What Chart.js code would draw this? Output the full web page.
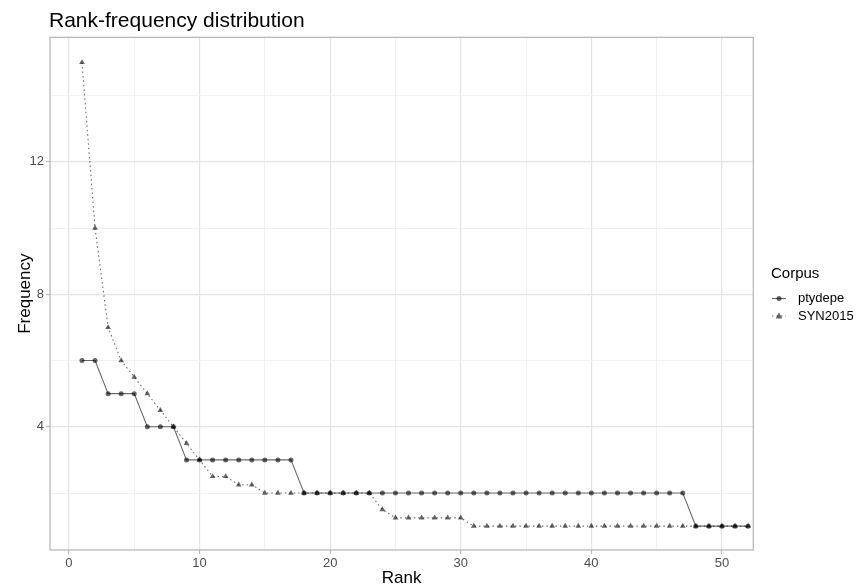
<!DOCTYPE html>
<html>
<head>
<meta charset="utf-8">
<script src="https://cdn.jsdelivr.net/npm/chart.js@4.4.1/dist/chart.umd.min.js"></script>
<style>
  html, body { margin: 0; padding: 0; background: #fff; }
  #wrap { width: 860px; height: 584px; position: relative; }
</style>
</head>
<body>
<div id="wrap"><canvas id="c" width="860" height="584"></canvas></div>
<script>
const chartTitle = "Rank-frequency distribution";
const xTitle = "Rank";
const yTitle = "Frequency";
const legendTitle = "Corpus";
const seriesNames = ["ptydepe", "SYN2015"];

const ranks = [1,2,3,4,5,6,7,8,9,10,11,12,13,14,15,16,17,18,19,20,21,22,23,24,25,26,
               27,28,29,30,31,32,33,34,35,36,37,38,39,40,41,42,43,44,45,46,47,48,49,50,51,52];

const ptydepe = [6,6,5,5,5,4,4,4,3,3,3,3,3,3,3,3,3,2,2,2,2,2,2,2,2,2,
                 2,2,2,2,2,2,2,2,2,2,2,2,2,2,2,2,2,2,2,2,2,1,1,1,1,1];

const syn2015 = [15,10,7,6,5.5,5,4.5,4,3.5,3,2.5,2.5,2.25,2.25,2,2,2,2,2,2,2,2,2,1.5,1.25,1.25,
                 1.25,1.25,1.25,1.25,1,1,1,1,1,1,1,1,1,1,1,1,1,1,1,1,1,1,1,1,1,1];

const xMajor = [0,10,20,30,40,50];
const xMinor = [5,15,25,35,45];
const yMajor = [4,8,12];
const yMinor = [2,6,10,14];

const FONT = "'Liberation Sans', Arial, Helvetica, sans-serif";
const LINE_COL = "rgba(0,0,0,0.58)";
const PT_COL = "rgba(0,0,0,0.6)";
const GRID_MAJ = "#e4e4e4";
const GRID_MIN = "#eeeeee";
const BORDER = "#b3b3b3";

const isMajor = (list, v) => list.some(m => Math.abs(m - v) < 1e-9);

const decor = {
  id: "decor",
  afterDraw(chart) {
    const ctx = chart.ctx;
    const a = chart.chartArea;
    ctx.save();
    ctx.strokeStyle = BORDER;
    ctx.lineWidth = 1.2;
    ctx.strokeRect(a.left, a.top, a.right - a.left, a.bottom - a.top);
    ctx.fillStyle = "#000";
    ctx.textBaseline = "alphabetic";
    ctx.textAlign = "left";
    ctx.font = "21px " + FONT;
    ctx.fillText(chartTitle, 49, 27);
    ctx.font = "17px " + FONT;
    ctx.textAlign = "center";
    ctx.fillText(xTitle, (a.left + a.right) / 2, 583);
    ctx.save();
    ctx.translate(30, (a.top + a.bottom) / 2);
    ctx.rotate(-Math.PI / 2);
    ctx.fillText(yTitle, 0, 0);
    ctx.restore();
    ctx.textAlign = "left";
    ctx.font = "15px " + FONT;
    ctx.fillText(legendTitle, 771, 278);
    const rowsY = [298.5, 316];
    chart.data.datasets.forEach((ds, i) => {
      const y = rowsY[i];
      ctx.strokeStyle = LINE_COL;
      ctx.lineWidth = 1.1;
      ctx.setLineDash(ds.borderDash || []);
      ctx.beginPath();
      ctx.moveTo(772, y);
      ctx.lineTo(786, y);
      ctx.stroke();
      ctx.setLineDash([]);
      ctx.fillStyle = PT_COL;
      ctx.beginPath();
      if (ds.pointStyle === "triangle") {
        const r = ds.pointRadius;
        ctx.moveTo(779, y - r * 1.1);
        ctx.lineTo(779 + r, y + r * 0.75);
        ctx.lineTo(779 - r, y + r * 0.75);
        ctx.closePath();
      } else {
        ctx.arc(779, y, ds.pointRadius, 0, Math.PI * 2);
      }
      ctx.fill();
      ctx.fillStyle = "#000";
      ctx.font = "13px " + FONT;
      ctx.textBaseline = "middle";
      ctx.fillText(ds.label, 798, y);
      ctx.textBaseline = "alphabetic";
    });
    ctx.restore();
  }
};

const toPts = (ys) => ranks.map((r, i) => ({ x: r, y: ys[i] }));

new Chart(document.getElementById("c"), {
  type: "line",
  data: {
    datasets: [
      {
        label: seriesNames[0],
        data: toPts(ptydepe),
        borderColor: LINE_COL,
        borderWidth: 1.1,
        pointStyle: "circle",
        pointRadius: 2.5,
        pointBackgroundColor: PT_COL,
        pointBorderWidth: 0,
        tension: 0,
        fill: false
      },
      {
        label: seriesNames[1],
        data: toPts(syn2015),
        borderColor: LINE_COL,
        borderWidth: 1.1,
        borderDash: [1.5, 3],
        pointStyle: "triangle",
        pointRadius: 3.3,
        pointBackgroundColor: PT_COL,
        pointBorderWidth: 0,
        tension: 0,
        fill: false
      }
    ]
  },
  options: {
    responsive: false,
    animation: false,
    devicePixelRatio: 1,
    layout: { padding: { left: 0, top: 37.3, right: 106.7, bottom: 0 } },
    plugins: { legend: { display: false }, title: { display: false }, tooltip: { enabled: false } },
    scales: {
      x: {
        type: "linear",
        min: -1.45,
        max: 52.4,
        afterBuildTicks(scale) {
          scale.ticks = [...xMajor, ...xMinor].sort((p, q) => p - q).map(v => ({ value: v }));
        },
        afterFit(scale) { scale.height = 34; },
        border: { display: false },
        grid: {
          drawTicks: true,
          tickLength: 4,
          color: ctx => isMajor(xMajor, ctx.tick.value) ? GRID_MAJ : GRID_MIN,
          lineWidth: ctx => isMajor(xMajor, ctx.tick.value) ? 1.2 : 0.8,
          tickColor: ctx => isMajor(xMajor, ctx.tick.value) ? BORDER : "rgba(0,0,0,0)",
          tickWidth: 1
        },
        ticks: {
          autoSkip: false,
          maxRotation: 0,
          padding: 2,
          color: "#4d4d4d",
          font: { family: FONT, size: 13 },
          callback: v => isMajor(xMajor, v) ? String(v) : ""
        }
      },
      y: {
        type: "linear",
        min: 0.28,
        max: 15.76,
        afterBuildTicks(scale) {
          scale.ticks = [...yMajor, ...yMinor].sort((p, q) => p - q).map(v => ({ value: v }));
        },
        afterFit(scale) { scale.width = 50; },
        border: { display: false },
        grid: {
          drawTicks: true,
          tickLength: 4,
          color: ctx => isMajor(yMajor, ctx.tick.value) ? GRID_MAJ : GRID_MIN,
          lineWidth: ctx => isMajor(yMajor, ctx.tick.value) ? 1.2 : 0.8,
          tickColor: ctx => isMajor(yMajor, ctx.tick.value) ? BORDER : "rgba(0,0,0,0)",
          tickWidth: 1
        },
        ticks: {
          autoSkip: false,
          padding: 2,
          color: "#4d4d4d",
          font: { family: FONT, size: 13 },
          callback: v => isMajor(yMajor, v) ? String(v) : ""
        }
      }
    }
  },
  plugins: [decor]
});
</script>
</body>
</html>
